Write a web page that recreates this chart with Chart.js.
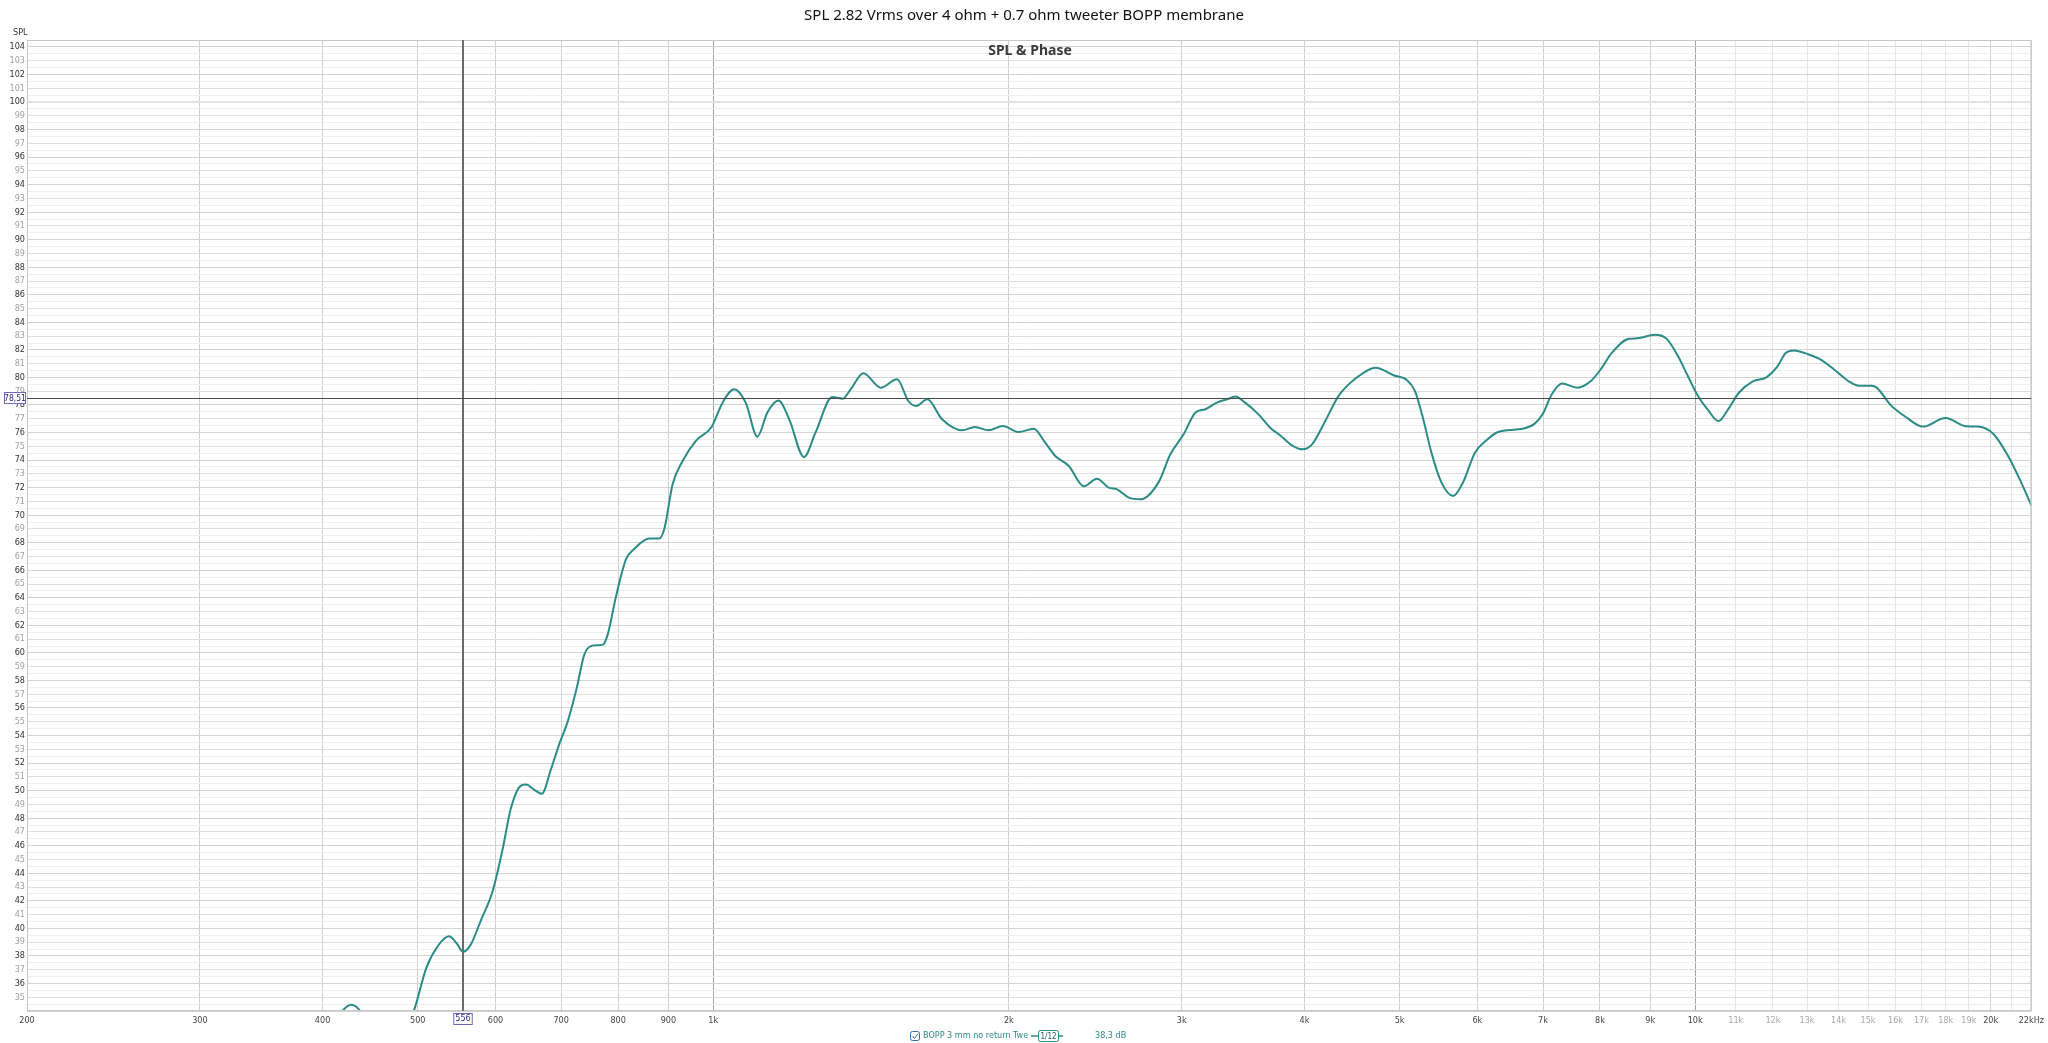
<!DOCTYPE html>
<html>
<head>
<meta charset="utf-8">
<script src="https://cdn.jsdelivr.net/npm/chart.js@4.4.1/dist/chart.umd.min.js"></script>
<style>
  html, body { margin: 0; padding: 0; background: #ffffff; }
  #wrap { width: 2048px; height: 1043px; position: relative; }
  canvas { display: block; }
</style>
</head>
<body>
<div id="wrap"><canvas id="c" width="2048" height="1043"></canvas></div>
<script>
// ---------- data ----------
const chartTitle = "SPL 2.82 Vrms over 4 ohm + 0.7 ohm tweeter BOPP membrane";
const graphTitle = "SPL & Phase";
const seriesName = "BOPP 3 mm no return Twe";
const smoothingLabel = "1/12";
const cursorFreq = 556;
const cursorLevel = 78.51;
const cursorReading = "38,3 dB";
const cursorLevelLabel = "78,51";

const freqHz = [
  400, 410, 418, 428, 438, 446, 460, 478, 490, 497,
  510, 524, 538, 548, 556, 566, 580, 596, 610, 622,
  637, 645, 656, 669, 683, 697, 711, 726, 739, 754,
  772, 781, 796, 815, 831, 861, 881, 892, 909, 930,
  960, 996, 1022, 1050, 1079, 1109, 1135, 1165, 1195, 1237,
  1271, 1322, 1355, 1380, 1422, 1481, 1539, 1580, 1609, 1652,
  1710, 1793, 1847, 1907, 1972, 2047, 2120, 2178, 2230, 2302,
  2385, 2459, 2528, 2578, 2650, 2723, 2842, 2921, 3013, 3097,
  3170, 3257, 3335, 3402, 3481, 3592, 3691, 3778, 3884, 3982,
  4072, 4201, 4334, 4523, 4727, 4929, 5087, 5183, 5286, 5388,
  5517, 5670, 5800, 5967, 6118, 6299, 6640, 6860, 7000, 7143,
  7318, 7587, 7836, 8024, 8220, 8564, 8734, 9100, 9355, 9590,
  9825, 10060, 10310, 10560, 10820, 11080, 11450, 11820, 12120, 12360,
  12610, 13020, 13450, 13890, 14350, 14700, 15120, 15310, 15810, 16390,
  17060, 17990, 18880, 19420, 20140, 20800, 21480, 22000
];
const splDb = [
  31.0, 32.8, 33.9, 34.45, 33.9, 32.8, 31.5, 31.8, 33.2, 34.3,
  37.1, 38.7, 39.42, 38.9, 38.3, 38.8, 40.6, 42.7, 45.7, 48.7,
  50.37, 50.45, 50.1, 49.77, 51.5, 53.4, 55.05, 57.46, 59.87, 60.53,
  60.6, 61.38, 64.1, 66.8, 67.56, 68.3, 68.3, 69.07, 72.24, 73.9,
  75.4, 76.4, 78.17, 79.14, 78.17, 75.7, 77.44, 78.32, 76.96, 74.22,
  76.0, 78.58, 78.46, 79.14, 80.3, 79.26, 79.87, 78.29, 77.93, 78.41,
  76.96, 76.16, 76.4, 76.16, 76.47, 76.04, 76.28, 75.26, 74.3, 73.57,
  72.1, 72.65, 72.0, 71.87, 71.27, 71.15, 72.4, 74.42, 75.87, 77.44,
  77.69, 78.17, 78.41, 78.61, 78.17, 77.32, 76.35, 75.8, 75.07, 74.78,
  75.14, 76.84, 78.66, 79.99, 80.71, 80.16, 79.82, 79.02, 76.96, 74.54,
  72.36, 71.39, 72.36, 74.54, 75.38, 76.04, 76.25, 76.63, 77.38, 78.76,
  79.56, 79.26, 79.76, 80.64, 81.76, 82.81, 82.84, 83.1, 82.8, 81.64,
  80.14, 78.69, 77.63, 76.83, 77.76, 78.89, 79.71, 80.01, 80.76, 81.76,
  81.96, 81.69, 81.26, 80.51, 79.69, 79.39, 79.39, 79.26, 78.01, 77.13,
  76.43, 77.06, 76.46, 76.43, 75.88, 74.38, 72.38, 70.7
];

const xTickValues = [200, 300, 400, 500, 600, 700, 800, 900,
  1000, 2000, 3000, 4000, 5000, 6000, 7000, 8000, 9000,
  10000, 11000, 12000, 13000, 14000, 15000, 16000, 17000, 18000, 19000,
  20000, 21000, 22000];
const xTickLabels = ["200", "300", "400", "500", "600", "700", "800", "900",
  "1k", "2k", "3k", "4k", "5k", "6k", "7k", "8k", "9k",
  "10k", "11k", "12k", "13k", "14k", "15k", "16k", "17k", "18k", "19k",
  "20k", "", "22kHz"];

const xMin = 200, xMax = 22000;
const yMin = 34, yMax = 104.5;

// ---------- styling ----------
const TEAL = "#2b8b87";
const TICK_FONT = "'Liberation Sans Narrow', 'DejaVu Sans Condensed', 'Noto Sans', sans-serif";
const UI_FONT = "'Noto Sans', 'Open Sans', sans-serif";

const points = freqHz.map((f, i) => ({ x: f, y: splDb[i] }));

function isLight(v) { return (v > 10500 && v < 19500) || v === 21000; }

const overlay = {
  id: "overlay",
  afterDraw(chart) {
    const ctx = chart.ctx;
    const a = chart.chartArea;
    const xs = chart.scales.x, ys = chart.scales.y;
    ctx.save();
    // plot border
    ctx.strokeStyle = "#c8c8c8";
    ctx.lineWidth = 1;
    ctx.strokeRect(a.left + 0.5, a.top + 0.5, a.right - a.left - 1, a.bottom - a.top - 1);

    // cursor lines
    const cx = Math.round(xs.getPixelForValue(cursorFreq));
    const cy = Math.round(ys.getPixelForValue(cursorLevel));
    ctx.strokeStyle = "#6b6b6b";
    ctx.lineWidth = 2;
    ctx.beginPath(); ctx.moveTo(cx, a.top); ctx.lineTo(cx, a.bottom); ctx.stroke();
    ctx.strokeStyle = "#4a4a4a";
    ctx.lineWidth = 1.2;
    ctx.beginPath(); ctx.moveTo(a.left, cy + 0.5); ctx.lineTo(a.right, cy + 0.5); ctx.stroke();

    // cursor boxes
    ctx.textBaseline = "middle";
    ctx.textAlign = "center";
    ctx.font = "8.5px " + TICK_FONT;
    const bx = 4, bw = a.left - 5;
    ctx.fillStyle = "#ffffff";
    ctx.fillRect(bx, cy - 6, bw, 12);
    ctx.strokeStyle = "#6a6ab8"; ctx.lineWidth = 1;
    ctx.strokeRect(bx + 0.5, cy - 5.5, bw - 1, 11);
    ctx.fillStyle = "#2d2d8a";
    ctx.fillText(cursorLevelLabel, bx + bw / 2, cy + 0.5);

    ctx.font = "9px " + TICK_FONT;
    const fl = String(cursorFreq);
    const w = ctx.measureText(fl).width + 4;
    ctx.fillStyle = "#ffffff";
    ctx.fillRect(cx - w / 2, a.bottom + 2, w, 12);
    ctx.strokeStyle = "#6a6ab8";
    ctx.strokeRect(cx - w / 2 + 0.5, a.bottom + 2.5, w - 1, 11);
    ctx.fillStyle = "#2d2d8a";
    ctx.fillText(fl, cx, a.bottom + 8);

    // axis name
    ctx.fillStyle = "#333";
    ctx.textAlign = "left";
    ctx.fillText("SPL", 13, 33);

    // titles
    ctx.textAlign = "center";
    ctx.fillStyle = "#111";
    ctx.font = "15px " + UI_FONT;
    ctx.fillText(chartTitle, 1024, 16);
    ctx.font = "bold 14px " + UI_FONT;
    ctx.fillStyle = "#3a3a3a";
    ctx.fillText(graphTitle, 1030, 51);

    // legend
    const ly = 1036;
    ctx.strokeStyle = "#2f6fb0"; ctx.lineWidth = 1;
    ctx.beginPath();
    if (ctx.roundRect) ctx.roundRect(910.5, ly - 4.5, 9, 9, 2); else ctx.rect(910.5, ly - 4.5, 9, 9);
    ctx.stroke();
    ctx.beginPath(); ctx.moveTo(912.5, ly); ctx.lineTo(914.5, ly + 2.5); ctx.lineTo(918, ly - 2.5); ctx.stroke();
    ctx.font = "9px " + TICK_FONT;
    ctx.textAlign = "left";
    ctx.fillStyle = TEAL;
    ctx.fillText(seriesName, 923, ly);
    ctx.strokeStyle = TEAL; ctx.lineWidth = 1.5;
    ctx.beginPath(); ctx.moveTo(1031, ly); ctx.lineTo(1063, ly); ctx.stroke();
    ctx.fillStyle = "#fff";
    ctx.fillRect(1038, ly - 6, 20, 12);
    ctx.lineWidth = 1;
    ctx.beginPath();
    if (ctx.roundRect) ctx.roundRect(1038.5, ly - 5.5, 20, 11, 2); else ctx.rect(1038.5, ly - 5.5, 20, 11);
    ctx.stroke();
    ctx.fillStyle = "#1f5f5c";
    ctx.textAlign = "center";
    ctx.font = "8px " + TICK_FONT;
    ctx.fillText(smoothingLabel, 1048.5, ly + 0.5);
    ctx.font = "9px " + TICK_FONT;
    ctx.textAlign = "left";
    ctx.fillStyle = TEAL;
    ctx.fillText(cursorReading, 1095, ly);
    ctx.restore();
  }
};

new Chart(document.getElementById("c"), {
  type: "line",
  data: {
    datasets: [{
      label: seriesName,
      data: points,
      borderColor: TEAL,
      borderWidth: 2,
      pointRadius: 0,
      fill: false,
      cubicInterpolationMode: "monotone"
    }]
  },
  options: {
    responsive: false,
    animation: false,
    devicePixelRatio: 1,
    layout: { padding: { top: 40, right: 13, left: 0, bottom: 0 } },
    plugins: { legend: { display: false }, title: { display: false }, tooltip: { enabled: false } },
    scales: {
      x: {
        type: "logarithmic",
        min: xMin, max: xMax,
        afterBuildTicks: (s) => { s.ticks = xTickValues.map(v => ({ value: v })); },
        afterFit: (s) => { s.height = 32; },
        border: { display: false },
        grid: {
          drawTicks: false,
          color: (c) => {
            const v = c.tick ? c.tick.value : 0;
            if (v === 1000 || v === 10000) return "#a3a3a3";
            if (isLight(v)) return "#e6e6e6";
            return "#d0d0d0";
          },
          lineWidth: 1
        },
        ticks: {
          autoSkip: false,
          maxRotation: 0,
          padding: 4,
          font: { size: 9, family: TICK_FONT },
          color: (c) => isLight(c.tick.value) ? "#a8a8a8" : "#444",
          callback: (v) => { const i = xTickValues.indexOf(v); return i >= 0 ? xTickLabels[i] : ""; }
        }
      },
      y: {
        type: "linear",
        min: yMin, max: yMax,
        afterFit: (s) => { s.width = 27; },
        border: { display: false },
        grid: {
          drawTicks: false,
          color: (c) => {
            const v = c.tick ? c.tick.value : 0;
            if (v === 100) return "#e2e2e2";
            if (Number.isInteger(v)) return (v % 2 === 0) ? "#d3d3d3" : "#dedede";
            return "#efefef";
          },
          lineWidth: (c) => (c.tick && c.tick.value === 100) ? 2 : 1
        },
        ticks: {
          stepSize: 0.5,
          maxTicksLimit: 400,
          autoSkip: false,
          padding: 2,
          font: { size: 9, family: TICK_FONT },
          color: (c) => (c.tick.value % 2 === 0) ? "#333" : "#a0a0a0",
          callback: (v) => (Number.isInteger(v) && v >= 35) ? String(v) : ""
        }
      }
    }
  },
  plugins: [overlay]
});
</script>
</body>
</html>
